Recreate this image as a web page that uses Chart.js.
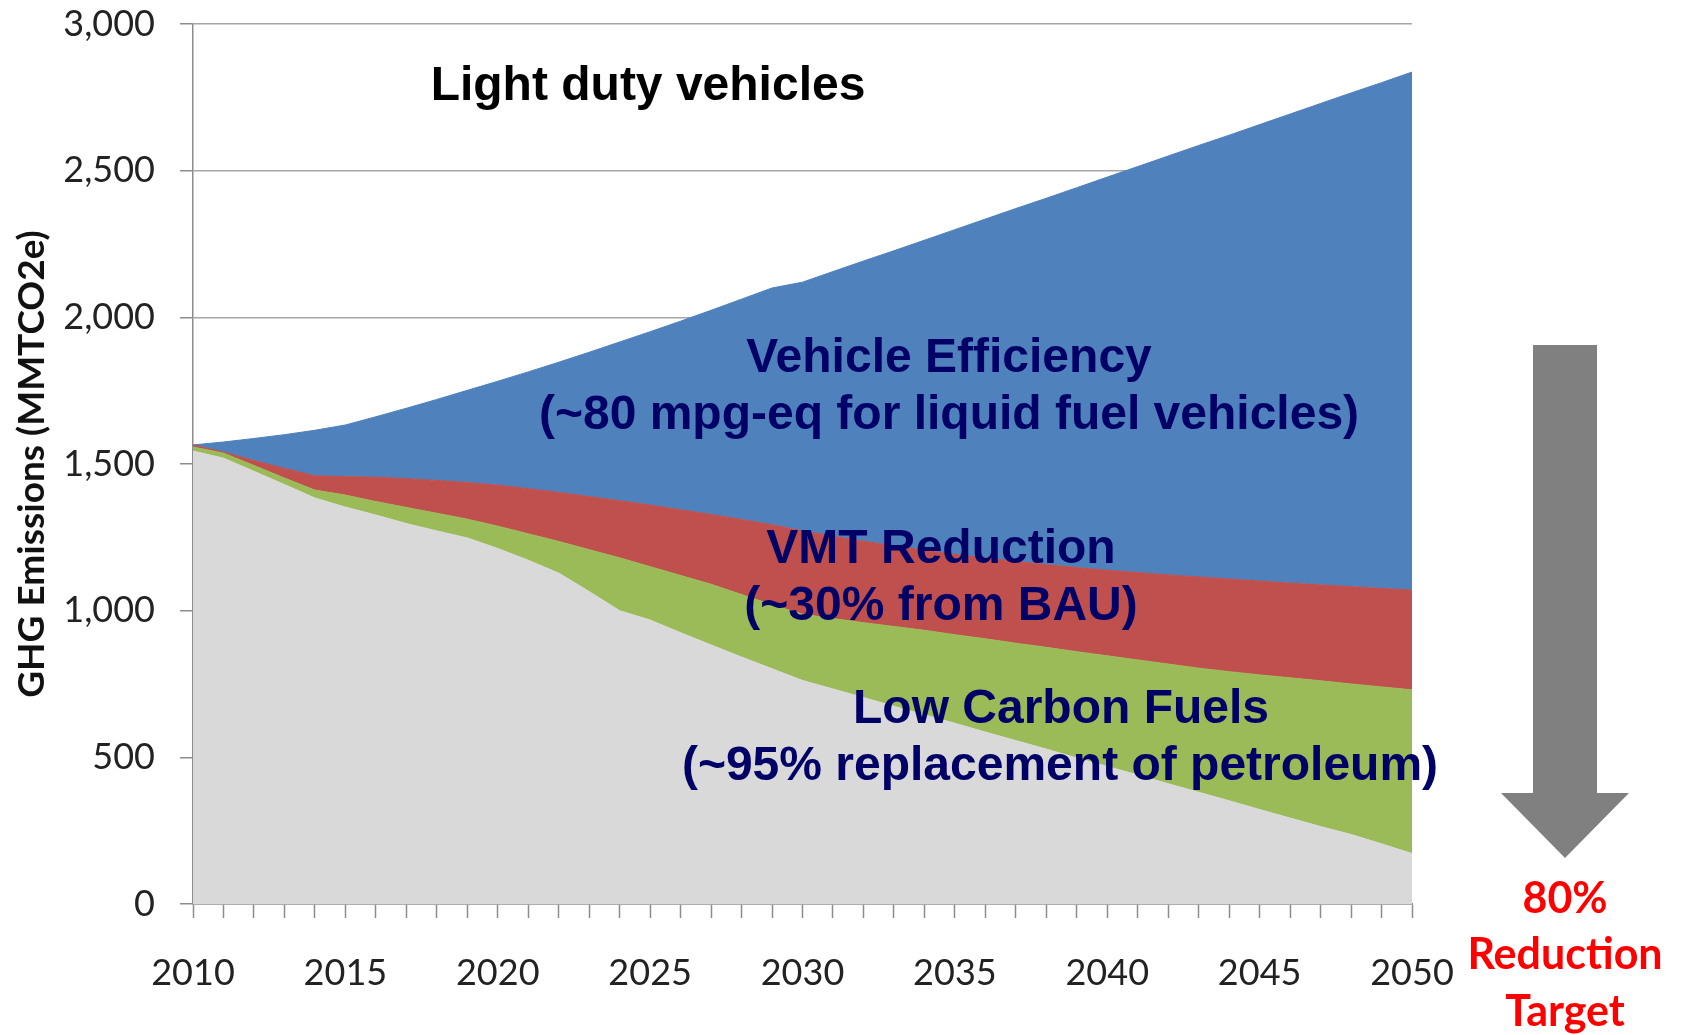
<!DOCTYPE html>
<html>
<head>
<meta charset="utf-8">
<script src="https://cdn.jsdelivr.net/npm/chart.js@4.4.1/dist/chart.umd.min.js"></script>
<style>
  html, body { margin: 0; padding: 0; background: #ffffff; }
  canvas { display: block; }
</style>
</head>
<body>
<canvas id="chart" width="1681" height="1035"></canvas>
<script>
// years on the x axis (one tick per year, label every 5)
const years = [2010, 2011, 2012, 2013, 2014, 2015, 2016, 2017, 2018, 2019,
               2020, 2021, 2022, 2023, 2024, 2025, 2026, 2027, 2028, 2029,
               2030, 2031, 2032, 2033, 2034, 2035, 2036, 2037, 2038, 2039,
               2040, 2041, 2042, 2043, 2044, 2045, 2046, 2047, 2048, 2049, 2050];

// top edge of every band, MMTCO2e
const remainingTop = [1544, 1520, 1475, 1430, 1384, 1353, 1326, 1297, 1272, 1248,
                      1212, 1172, 1128, 1065, 1000, 968, 925, 883, 842, 802,
                      762, 733, 704, 674, 645, 616, 586, 557, 528, 498,
                      469, 440, 410, 381, 352, 322, 293, 264, 237, 205, 172];
const lowCarbonTop = [1558, 1537, 1495, 1452, 1411, 1394, 1372, 1352, 1332, 1312,
                      1288, 1262, 1236, 1208, 1180, 1150, 1120, 1090, 1055, 1020,
                      988, 973, 959, 946, 933, 918, 904, 889, 875, 860,
                      846, 832, 818, 804, 792, 781, 771, 761, 750, 740, 730];
const vmtTop = [1565, 1541, 1512, 1485, 1460, 1457, 1455, 1450, 1444, 1437,
                1428, 1416, 1403, 1389, 1375, 1360, 1344, 1328, 1311, 1293,
                1272, 1254, 1237, 1221, 1206, 1192, 1180, 1168, 1157, 1147,
                1138, 1130, 1122, 1115, 1108, 1101, 1094, 1088, 1082, 1076, 1070];
const efficiencyTop = [1565, 1575, 1587, 1600, 1615, 1633, 1661, 1690, 1720, 1751,
                       1782, 1814, 1847, 1881, 1916, 1951, 1987, 2024, 2062, 2100,
                       2120, 2156, 2192, 2227, 2263, 2299, 2335, 2371, 2406, 2442,
                       2478, 2514, 2550, 2586, 2621, 2657, 2693, 2729, 2765, 2800, 2836];

const yMin = 0;
const yMax = 3000;
const yStep = 500;

const colors = {
  remaining: '#D9D9D9',
  lowCarbon: '#9BBB59',
  vmt: '#C0504D',
  efficiency: '#4F81BD',
  navy: '#000066',
  red: '#FF0000',
  arrow: '#808080'
};

// text and arrow drawn on top of the plot
const annotations = {
  id: 'annotations',
  afterDraw(chart) {
    const ctx = chart.ctx;
    ctx.save();

    ctx.fillStyle = '#000000';
    ctx.textAlign = 'center';
    ctx.textBaseline = 'alphabetic';
    ctx.font = 'bold 48px "Liberation Sans", Arial, sans-serif';
    ctx.fillText('Light duty vehicles', 648, 100);

    ctx.fillStyle = colors.navy;
    ctx.fillText('Vehicle Efficiency', 949, 372);
    ctx.fillText('(~80 mpg-eq for liquid fuel vehicles)', 949, 429);
    ctx.fillText('VMT Reduction', 941, 563);
    ctx.fillText('(~30% from BAU)', 941, 620);
    ctx.fillText('Low Carbon Fuels', 1061, 723);
    ctx.fillText('(~95% replacement of petroleum)', 1060, 780);

    // big down arrow
    ctx.fillStyle = colors.arrow;
    ctx.beginPath();
    ctx.moveTo(1533, 345);
    ctx.lineTo(1597, 345);
    ctx.lineTo(1597, 793);
    ctx.lineTo(1629, 793);
    ctx.lineTo(1565, 858);
    ctx.lineTo(1501, 793);
    ctx.lineTo(1533, 793);
    ctx.closePath();
    ctx.fill();

    ctx.fillStyle = colors.red;
    ctx.font = 'bold 43px Lato, sans-serif';
    ctx.fillText('80%', 1565, 913);
    ctx.fillText('Reduction', 1565, 969);
    ctx.fillText('Target', 1565, 1026);

    ctx.restore();
  }
};

function band(data, color, fill) {
  return {
    data: data,
    backgroundColor: color,
    borderColor: color,
    borderWidth: 1,
    pointRadius: 0,
    tension: 0,
    fill: fill
  };
}

function drawChart() {
  new Chart(document.getElementById('chart'), {
    type: 'line',
    data: {
      labels: years,
      datasets: [
        band(remainingTop, colors.remaining, 'origin'),
        band(lowCarbonTop, colors.lowCarbon, '-1'),
        band(vmtTop, colors.vmt, '-1'),
        band(efficiencyTop, colors.efficiency, '-1')
      ]
    },
    options: {
      responsive: false,
      animation: false,
      layout: { padding: { top: 24, right: 269, bottom: 0, left: 0 } },
      plugins: {
        legend: { display: false },
        tooltip: { enabled: false }
      },
      scales: {
        x: {
          offset: false,
          grid: {
            display: true,
            drawOnChartArea: false,
            drawTicks: true,
            tickLength: 14,
            tickColor: '#8c8c8c',
            tickWidth: 1.5
          },
          border: { display: true, color: '#8c8c8c', width: 1.5 },
          ticks: {
            autoSkip: false,
            maxRotation: 0,
            minRotation: 0,
            padding: 34,
            color: '#222222',
            font: { family: 'Lato', size: 36 },
            callback: function (value, index) {
              return years[index] % 5 === 0 ? String(years[index]) : '';
            }
          },
          afterFit: function (scale) { scale.height = 131; }
        },
        y: {
          min: yMin,
          max: yMax,
          grid: {
            color: '#a6a6a6',
            lineWidth: 1.5,
            drawTicks: true,
            tickLength: 13,
            tickColor: '#8c8c8c'
          },
          border: { display: true, color: '#8c8c8c', width: 1.5 },
          ticks: {
            stepSize: yStep,
            padding: 25,
            color: '#222222',
            font: { family: 'Lato', size: 36 },
            callback: function (value) { return value.toLocaleString('en-US'); }
          },
          title: {
            display: true,
            text: 'GHG Emissions (MMTCO2e)',
            color: '#111111',
            font: { family: 'Lato', size: 37, weight: 'bold' },
            padding: { top: 10, bottom: 0 }
          },
          afterFit: function (scale) {
            scale.width = 193;
            scale.paddingTop = 0;
            scale.paddingBottom = 0;
          }
        }
      }
    },
    plugins: [annotations]
  });
}

Promise.all([
  document.fonts.load('36px Lato'),
  document.fonts.load('bold 37px Lato'),
  document.fonts.load('bold 48px "Liberation Sans"')
]).then(drawChart, drawChart);
</script>
</body>
</html>
